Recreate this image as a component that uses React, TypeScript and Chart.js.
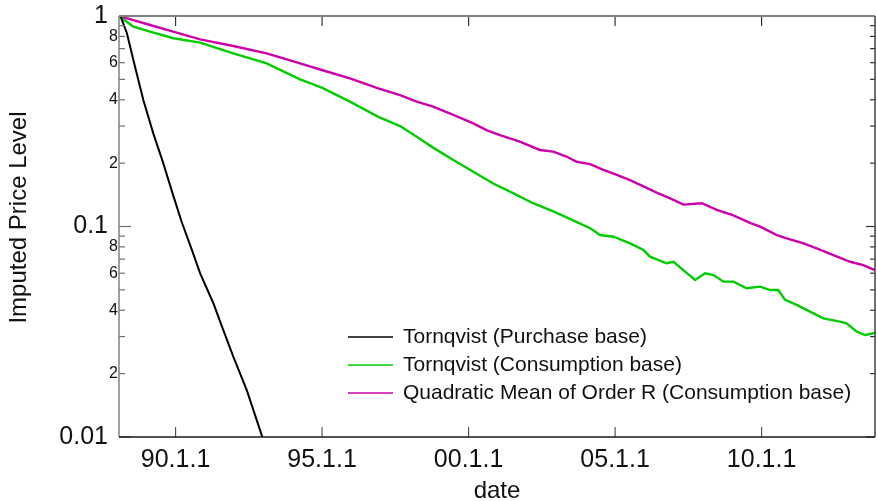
import React, { useEffect, useRef } from 'react';
import { Chart, registerables } from 'chart.js';

Chart.register(...registerables);

const FONT = '"Liberation Sans", Arial, Helvetica, sans-serif';

const seriesLabels = [
  'Tornqvist (Purchase base)',
  'Tornqvist (Consumption base)',
  'Quadratic Mean of Order R (Consumption base)',
];
const seriesColors = ['#000000', '#00cc00', '#cc00aa'];
const seriesWidths = [2, 2.4, 2.4];

const purchaseYears = [1988.07, 1988.13, 1988.34, 1988.56, 1988.9, 1989.24, 1989.58, 1989.93, 1990.21, 1990.56, 1990.84, 1991.29, 1991.63, 1991.97, 1992.43, 1992.94, 1993.0];
const purchaseValues = [1.0, 0.992, 0.828, 0.618, 0.399, 0.277, 0.2, 0.139, 0.105, 0.0773, 0.0599, 0.0432, 0.0322, 0.0241, 0.0167, 0.0102, 0.0096];

const consumptionYears = [1988.07, 1988.56, 1989.13, 1989.93, 1990.84, 1991.97, 1993.11, 1994.25, 1994.99, 1995.95, 1996.92, 1997.66, 1998.23, 1998.79, 1999.48, 2000.16, 2000.84, 2001.52, 2002.2, 2002.89, 2003.57, 2004.15, 2004.49, 2004.95, 2005.51, 2005.97, 2006.19, 2006.76, 2006.99, 2007.33, 2007.73, 2008.07, 2008.36, 2008.7, 2009.04, 2009.49, 2009.95, 2010.29, 2010.57, 2010.8, 2011.2, 2011.65, 2012.11, 2012.67, 2012.9, 2013.24, 2013.53, 2013.81, 2013.87];
const consumptionValues = [1.0, 0.89, 0.842, 0.784, 0.747, 0.665, 0.596, 0.5, 0.457, 0.392, 0.332, 0.3, 0.267, 0.237, 0.207, 0.182, 0.16, 0.144, 0.129, 0.118, 0.107, 0.0981, 0.0911, 0.0894, 0.0832, 0.0773, 0.0719, 0.0669, 0.068, 0.0621, 0.0557, 0.0599, 0.0588, 0.0547, 0.0547, 0.0509, 0.0518, 0.0499, 0.0499, 0.0448, 0.0424, 0.0394, 0.0366, 0.0353, 0.0347, 0.0317, 0.0305, 0.0311, 0.0312];

const quadraticYears = [1988.07, 1989.13, 1989.92, 1990.84, 1991.97, 1993.11, 1994.25, 1994.99, 1995.95, 1996.92, 1997.66, 1998.23, 1998.79, 1999.48, 2000.16, 2000.61, 2001.07, 2001.75, 2002.43, 2002.89, 2003.34, 2003.69, 2004.15, 2004.6, 2005.06, 2005.51, 2005.97, 2006.42, 2006.88, 2007.33, 2007.96, 2008.47, 2009.04, 2009.6, 2009.95, 2010.52, 2010.86, 2011.43, 2011.88, 2012.45, 2013.02, 2013.47, 2013.81, 2013.87];
const quadraticValues = [1.0, 0.906, 0.842, 0.775, 0.72, 0.665, 0.596, 0.554, 0.506, 0.453, 0.421, 0.392, 0.371, 0.339, 0.309, 0.287, 0.272, 0.253, 0.231, 0.227, 0.215, 0.203, 0.198, 0.186, 0.176, 0.166, 0.155, 0.145, 0.136, 0.127, 0.129, 0.12, 0.113, 0.104, 0.0998, 0.0911, 0.0879, 0.0832, 0.0787, 0.0732, 0.068, 0.0656, 0.0626, 0.062];

const xTickYears = [1990, 1995, 2000, 2005, 2010];
const xMin = 1988.07;
const xMax = 2013.87;
const yMin = 0.01;
const yMax = 1;
const yDecades = [0.01, 0.1];
const yMinorMantissas = [2, 3, 4, 5, 6, 7, 8, 9];
const yLabelledMantissas = [2, 4, 6, 8];
const xTitle = 'date';
const yTitle = 'Imputed Price Level';

const fmtYear = (v: number) => `${String(Math.round(v) % 100).padStart(2, '0')}.1.1`;

const decorPlugin = {
  id: 'decor',
  afterDatasetsDraw(chart: any) {
    const { ctx, chartArea: a } = chart;
    const xs = chart.scales.x;
    const ys = chart.scales.y;
    ctx.save();
    const seg = (x1: number, y1: number, x2: number, y2: number, color: string, w: number) => {
      ctx.beginPath();
      ctx.strokeStyle = color;
      ctx.lineWidth = w;
      ctx.moveTo(x1, y1);
      ctx.lineTo(x2, y2);
      ctx.stroke();
    };
    // y ticks + labels
    ys.ticks.forEach((t: any) => {
      const py = ys.getPixelForValue(t.value);
      const lg = Math.log10(t.value);
      const major = Math.abs(lg - Math.round(lg)) < 1e-6;
      seg(a.left, py, a.left + (major ? 12 : 6), py, '#6f6f6f', 1.2);
      seg(a.right, py, a.right - (major ? 9 : 5), py, '#333333', 1.2);
      ctx.fillStyle = '#111111';
      ctx.textBaseline = 'middle';
      ctx.textAlign = 'right';
      if (major) {
        ctx.font = `25px ${FONT}`;
        ctx.fillText(String(t.value), a.left - 11, py);
      } else {
        const mant = Math.round(t.value / Math.pow(10, Math.floor(lg + 1e-9)));
        if (yLabelledMantissas.includes(mant)) {
          ctx.font = `16px ${FONT}`;
          ctx.fillText(String(mant), a.left - 1, py);
        }
      }
    });
    // x ticks
    xs.ticks.forEach((t: any) => {
      const px = xs.getPixelForValue(t.value);
      seg(px, a.bottom, px, a.bottom - 10, '#555555', 1.2);
      seg(px, a.top, px, a.top + 10, '#333333', 1.2);
    });
    // axis lines
    seg(a.left, a.top, a.right, a.top, '#808080', 2);
    seg(a.left, a.top, a.left, a.bottom, '#808080', 1.5);
    seg(a.left, a.bottom, a.right, a.bottom, '#1a1a1a', 1.5);
    seg(a.right, a.top, a.right, a.bottom, '#404040', 1.5);

    // legend
    chart.data.datasets.forEach((ds: any, i: number) => {
      const yy = 337 + i * 28;
      seg(348, yy, 393, yy, ds.borderColor, 1.5);
      ctx.fillStyle = '#111111';
      ctx.font = `21px ${FONT}`;
      ctx.textAlign = 'left';
      ctx.textBaseline = 'middle';
      ctx.fillText(ds.label, 403, yy);
    });

    // y title
    ctx.save();
    ctx.translate(19, (a.top + a.bottom) / 2 - 9);
    ctx.rotate(-Math.PI / 2);
    ctx.fillStyle = '#111111';
    ctx.font = `24px ${FONT}`;
    ctx.textAlign = 'center';
    ctx.textBaseline = 'middle';
    ctx.fillText(yTitle, 0, 0);
    ctx.restore();

    ctx.restore();
  },
};

export default function App() {
  const canvasRef = useRef<HTMLCanvasElement | null>(null);

  useEffect(() => {
    if (!canvasRef.current) return;
    const mk = (xsArr: number[], ysArr: number[]) => xsArr.map((x, i) => ({ x, y: ysArr[i] }));
    const datasets = [
      mk(purchaseYears, purchaseValues),
      mk(consumptionYears, consumptionValues),
      mk(quadraticYears, quadraticValues),
    ].map((data, i) => ({
      label: seriesLabels[i],
      data,
      borderColor: seriesColors[i],
      backgroundColor: seriesColors[i],
      borderWidth: seriesWidths[i],
      pointRadius: 0,
      tension: 0,
      fill: false,
    }));

    const chart = new Chart(canvasRef.current, {
      type: 'line',
      data: { datasets },
      plugins: [decorPlugin],
      options: {
        animation: false,
        responsive: true,
        maintainAspectRatio: false,
        layout: { padding: { top: 16, right: 2, left: 0, bottom: 0 } },
        plugins: { legend: { display: false }, tooltip: { enabled: false } },
        scales: {
          x: {
            type: 'linear',
            position: 'bottom',
            min: xMin,
            max: xMax,
            afterBuildTicks: (s: any) => {
              s.ticks = xTickYears.map((v) => ({ value: v }));
            },
            afterFit: (s: any) => {
              s.height = 64;
            },
            grid: { display: false, drawTicks: false },
            border: { display: false },
            ticks: {
              autoSkip: false,
              maxRotation: 0,
              padding: 8,
              color: '#111111',
              font: { family: FONT, size: 25 },
              callback: (v: any) => fmtYear(Number(v)),
            },
            title: {
              display: true,
              text: xTitle,
              color: '#111111',
              font: { family: FONT, size: 24, lineHeight: 1 },
              padding: { top: 0, bottom: -2 },
            },
          },
          y: {
            type: 'logarithmic',
            position: 'left',
            min: yMin,
            max: yMax,
            afterBuildTicks: (s: any) => {
              const t: any[] = [];
              yDecades.forEach((d) => {
                t.push({ value: d });
                yMinorMantissas.forEach((m) => t.push({ value: m * d }));
              });
              t.push({ value: yMax });
              s.ticks = t;
            },
            afterFit: (s: any) => {
              s.width = 119;
            },
            grid: { display: false, drawTicks: false },
            border: { display: false },
            ticks: { display: false },
            title: { display: false },
          },
        },
      },
    } as any);
    return () => chart.destroy();
  }, []);

  return (
    <div style={{ position: 'absolute', left: 0, top: 0, width: 877, height: 501, background: '#ffffff' }}>
      <canvas ref={canvasRef} />
    </div>
  );
}
